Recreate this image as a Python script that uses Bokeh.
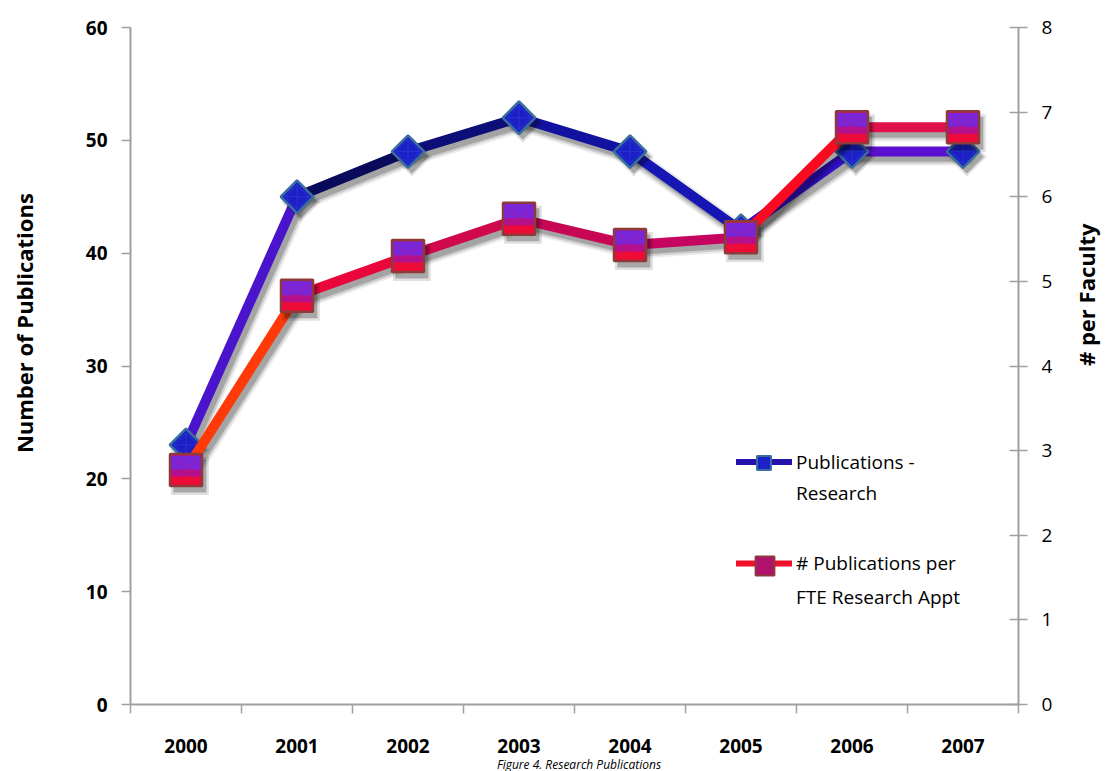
import numpy as np
from bokeh.plotting import figure
from bokeh.models import (Range1d, LinearAxis, FixedTicker, ColumnDataSource,
                          Legend, LegendItem, Div)
from bokeh.layouts import column
from bokeh.transform import dodge
from bokeh.embed import file_html
from bokeh.resources import INLINE

# ---------------- data ----------------
years = ["2000", "2001", "2002", "2003", "2004", "2005", "2006", "2007"]
publications_research = [23, 45, 49, 52, 49, 42, 49, 49]
pubs_per_fte = [2.77, 4.83, 5.30, 5.74, 5.43, 5.52, 6.82, 6.82]
left_ticks = [0, 10, 20, 30, 40, 50, 60]
right_ticks = [0, 1, 2, 3, 4, 5, 6, 7, 8]
series_labels = [["Publications -", "Research"],
                 ["# Publications per", "FTE Research Appt"]]
left_title = "Number of Publications"
right_title = "# per Faculty"
caption_text = "Figure 4. Research Publications"

# segment colours (imitating the gradients of the original)
blue_seg_colors = ["#4a14cc", "#0a0a5c", "#0e0e78", "#1212a0", "#1616b4", "#3010c4", "#5a10d0"]
red_seg_colors = ["#ff3a08", "#e8063a", "#d0084c", "#c80656", "#c4045e", "#f80a20", "#e0104a"]

FONT = "Open Sans"
AXIS_COLOR = "#a0a0a0"
NBSP = "\u00a0"

xpos = np.arange(len(years)) + 0.5

p = figure(width=1118, height=759, output_backend="svg", toolbar_location=None,
           x_range=Range1d(0, len(years)), y_range=Range1d(0, 60),
           min_border_left=130, min_border_right=100, min_border_top=27,
           min_border_bottom=55)
p.outline_line_color = None
p.xgrid.visible = False
p.ygrid.visible = False
p.background_fill_color = "white"
p.border_fill_color = "white"

p.extra_y_ranges = {"right": Range1d(0, 8)}
RY = p.extra_y_ranges["right"]

# x axis: labels at centres, ticks at category boundaries
xa = p.xaxis[0]
xa.ticker = FixedTicker(ticks=list(xpos), minor_ticks=list(range(len(years) + 1)))
xa.major_label_overrides = {float(x): y for x, y in zip(xpos, years)}
xa.major_tick_out = 0
xa.major_tick_in = 0
xa.minor_tick_out = 9
xa.minor_tick_in = 0
xa.minor_tick_line_color = AXIS_COLOR
xa.minor_tick_line_width = 1.5
xa.axis_line_color = AXIS_COLOR
xa.axis_line_width = 2
xa.major_label_standoff = 25
xa.major_label_text_font = FONT
xa.major_label_text_font_style = "bold"
xa.major_label_text_font_size = "19px"
xa.major_label_text_color = "black"

# left axis
ya = p.yaxis[0]
ya.ticker = FixedTicker(ticks=left_ticks)
ya.minor_tick_line_color = None
ya.major_tick_out = 9
ya.major_tick_in = 0
ya.major_tick_line_color = AXIS_COLOR
ya.major_tick_line_width = 1.5
ya.axis_line_color = AXIS_COLOR
ya.axis_line_width = 2
ya.major_label_standoff = 14
ya.major_label_text_font = FONT
ya.major_label_text_font_style = "bold"
ya.major_label_text_font_size = "19px"
ya.major_label_text_color = "black"


def title_axis(text, side, standoff, **kw):
    """Tick-less axis that only carries a title."""
    ax = LinearAxis(ticker=FixedTicker(ticks=[]), **kw)
    ax.axis_line_color = None
    ax.major_tick_line_color = None
    ax.minor_tick_line_color = None
    ax.major_tick_out = 0
    ax.major_tick_in = 0
    ax.major_label_standoff = 0
    ax.axis_label = text
    ax.axis_label_standoff = standoff
    ax.axis_label_text_font = FONT
    ax.axis_label_text_font_style = "bold"
    ax.axis_label_text_font_size = "22px"
    ax.axis_label_text_color = "black"
    p.add_layout(ax, side)
    return ax

# leading no-break spaces lift the centred title above the middle, as in the original
title_axis(NBSP * 15 + left_title, "left", 44)

# right axis
ra = LinearAxis(y_range_name="right", ticker=FixedTicker(ticks=right_ticks))
ra.minor_tick_line_color = None
ra.major_tick_out = 9
ra.major_tick_in = 9
ra.major_tick_line_color = AXIS_COLOR
ra.major_tick_line_width = 1.5
ra.axis_line_color = AXIS_COLOR
ra.axis_line_width = 2
ra.major_label_standoff = 14
ra.major_label_text_font = FONT
ra.major_label_text_font_size = "19px"
ra.major_label_text_color = "black"
p.add_layout(ra, "right")

rt = title_axis(right_title, "right", 30, y_range_name="right")
rt.axis_label_orientation = np.pi / 2

# ---------------- series ----------------
def seg_source(xs, ys, colors):
    xs = np.asarray(xs, dtype=float)
    ys = np.asarray(ys, dtype=float)
    return ColumnDataSource(dict(x0=xs[:-1], y0=ys[:-1], x1=xs[1:], y1=ys[1:], color=colors))

blue_src = seg_source(xpos, publications_research, blue_seg_colors)
red_src = seg_source(xpos, pubs_per_fte, red_seg_colors)
blue_pts = ColumnDataSource(dict(x=xpos, y=publications_research))
red_pts = ColumnDataSource(dict(x=xpos, y=pubs_per_fte))

DX = 0.035
DIAMOND_ANGLE = np.pi / 4

# --- blue series (left axis) ---
for w, a in [(18, 0.07), (14, 0.13), (10, 0.2)]:
    p.segment(x0=dodge("x0", DX, range=p.x_range), y0=dodge("y0", -0.45, range=p.y_range),
              x1=dodge("x1", DX, range=p.x_range), y1=dodge("y1", -0.45, range=p.y_range),
              source=blue_src, line_color="black", line_alpha=a, line_width=w, line_cap="round")
p.segment(x0="x0", y0="y0", x1="x1", y1="y1", source=blue_src,
          line_color="color", line_width=10, line_cap="round")
for s, a in [(28, 0.12), (24, 0.25)]:
    p.scatter(x=dodge("x", DX, range=p.x_range), y=dodge("y", -0.45, range=p.y_range),
              source=blue_pts, marker="square", angle=DIAMOND_ANGLE, size=s,
              fill_color="black", fill_alpha=a, line_color=None)
p.scatter(x="x", y="y", source=blue_pts, marker="square", angle=DIAMOND_ANGLE, size=23,
          fill_color="#1c20c4", line_color="#3a6e9e", line_width=2.5)
p.scatter(x="x", y="y", source=blue_pts, marker="square_x", angle=DIAMOND_ANGLE, size=17,
          fill_color=None, line_color="#3040e0", line_width=1, line_alpha=0.6)

# --- red series (right axis) ---
for w, a in [(18, 0.07), (14, 0.13), (10, 0.2)]:
    p.segment(x0=dodge("x0", DX, range=p.x_range), y0=dodge("y0", -0.06, range=RY),
              x1=dodge("x1", DX, range=p.x_range), y1=dodge("y1", -0.06, range=RY),
              source=red_src, line_color="black", line_alpha=a, line_width=w, line_cap="round",
              y_range_name="right")
p.segment(x0="x0", y0="y0", x1="x1", y1="y1", source=red_src,
          line_color="color", line_width=10, line_cap="round", y_range_name="right")
for s, a in [(38, 0.12), (33, 0.25)]:
    p.scatter(x=dodge("x", DX, range=p.x_range), y=dodge("y", -0.07, range=RY),
              source=red_pts, marker="square", size=s, fill_color="black", fill_alpha=a,
              line_color=None, y_range_name="right")
p.scatter(x="x", y="y", source=red_pts, marker="square", size=32,
          fill_color="#ee0c36", line_color=None, y_range_name="right")
# shading bands: purple top, magenta middle
p.rect(x="x", y=dodge("y", 0.085, range=RY), source=red_pts, width=30, height=15,
       width_units="screen", height_units="screen", fill_color="#7a26d6",
       line_color=None, y_range_name="right")
p.rect(x="x", y=dodge("y", -0.035, range=RY), source=red_pts, width=30, height=7,
       width_units="screen", height_units="screen", fill_color="#b4108c",
       line_color=None, y_range_name="right")
p.scatter(x="x", y="y", source=red_pts, marker="x", size=28,
          line_color="#c01480", line_width=1.2, line_alpha=0.45, y_range_name="right")
p.scatter(x="x", y="y", source=red_pts, marker="square", size=32,
          fill_color=None, line_color="#8e3a3a", line_width=2.5, y_range_name="right")

# ---------------- legend (hidden proxy renderers carry the legend styling) ----------------
blue_leg_line = p.line(x="x", y="y", source=blue_pts, line_color="#2412ac",
                       line_width=6, line_cap="round", visible=False)
red_leg_line = p.line(x="x", y="y", source=red_pts, line_color="#f0102c",
                      line_width=6, line_cap="round", visible=False, y_range_name="right")
blank = p.line(x=[], y=[], line_alpha=0)
blue_leg_mark = p.scatter(x="x", y="y", source=blue_pts, marker="square", angle=DIAMOND_ANGLE,
                          fill_color="#1c22c8", line_color="#3a6e9e", line_width=2,
                          visible=False)
red_leg_mark = p.scatter(x="x", y="y", source=red_pts, marker="square", fill_color="#b0106e",
                         line_color="#8e3a3a", line_width=2, visible=False,
                         y_range_name="right")


def styled_legend(items, location, gw, gh):
    lg = Legend(items=items, location=location)
    lg.background_fill_alpha = 0
    lg.border_line_color = None
    lg.inactive_fill_alpha = 0
    lg.glyph_width = gw
    lg.glyph_height = gh
    lg.label_standoff = 4
    lg.spacing = 0
    lg.padding = 0
    lg.margin = 0
    lg.label_text_font = FONT
    lg.label_text_font_size = "19px"
    lg.label_text_color = "black"
    lg.label_height = 20
    p.add_layout(lg, "center")
    return lg

styled_legend([LegendItem(label=series_labels[0][0], renderers=[blue_leg_line]),
               LegendItem(label=series_labels[0][1], renderers=[blank])],
              (606, 196), 56, 31)
styled_legend([LegendItem(label=series_labels[1][0], renderers=[red_leg_line]),
               LegendItem(label=series_labels[1][1], renderers=[blank])],
              (606, 90), 56, 34)
styled_legend([LegendItem(label=" ", renderers=[blue_leg_mark])],
              (616, 224), 35, 35)
styled_legend([LegendItem(label=" ", renderers=[red_leg_mark])],
              (611, 115), 47, 47)

# caption under the chart
caption = Div(text=caption_text, width=1118, height=12, margin=0,
              styles={"text-align": "center", "font-style": "italic",
                      "font-family": "Open Sans", "font-size": "12px",
                      "line-height": "12px", "padding-left": "40px",
                      "box-sizing": "border-box", "color": "black"})

layout = column(p, caption, spacing=0)
open("out.html", "w").write(file_html(layout, INLINE))
